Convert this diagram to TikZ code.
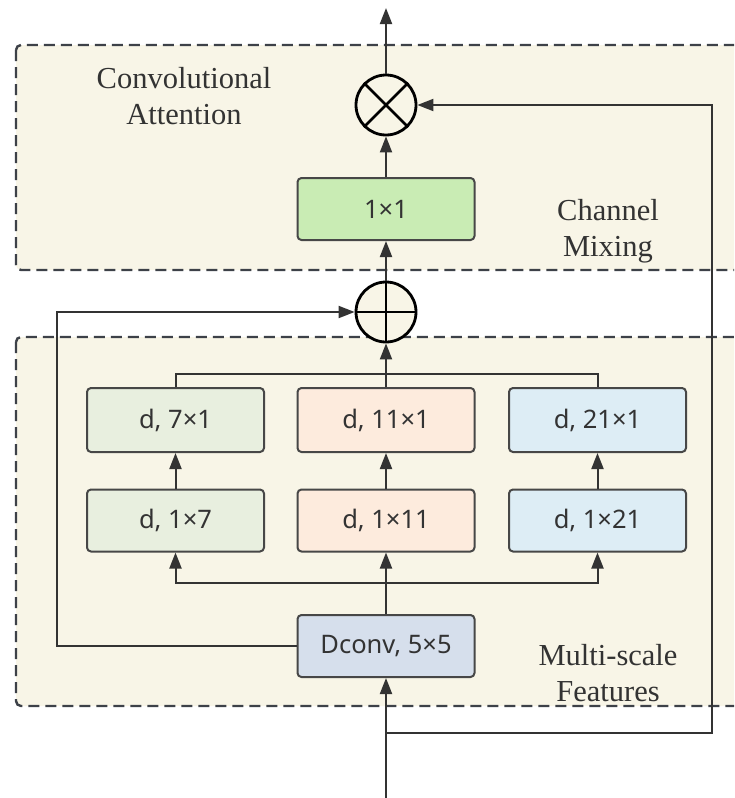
\documentclass[tikz,border=0pt]{standalone}
\usepackage{fontspec}
\setmainfont{Liberation Serif}
\newfontfamily\boxfont{Noto Sans}
\usetikzlibrary{arrows.meta}
\definecolor{cream}{HTML}{F8F5E7}
\definecolor{dashc}{HTML}{3D4148}
\definecolor{linec}{HTML}{333333}
\definecolor{gA}{HTML}{C9ECB4}
\definecolor{gB}{HTML}{E8EFDF}
\definecolor{pB}{HTML}{FDEBDD}
\definecolor{bB}{HTML}{DDEDF5}
\definecolor{dB}{HTML}{D6DFEC}
\definecolor{textc}{HTML}{333333}
\tikzset{
  region/.style={draw=dashc, fill=cream, line width=2.4pt, dash pattern=on 11pt off 6pt, rounded corners=5pt},
  blk/.style={draw=linec!90, line width=2pt, rounded corners=4pt, minimum width=177pt, minimum height=62pt, inner sep=0pt, font=\boxfont\fontsize{25.5}{28}\selectfont, text=textc},
  opc/.style={circle, draw=black, fill=cream, line width=2.8pt, minimum size=60pt, inner sep=0pt},
  lbl/.style={align=center, font=\fontsize{30.5}{36}\selectfont, text=textc},
  conn/.style={draw=linec, line width=2pt},
  arr/.style={conn, -{Triangle[length=16pt,width=12pt]}}
}
\begin{document}
\begin{tikzpicture}[x=1pt,y=-1pt]
\useasboundingbox (0,0) rectangle (734,798);
\begin{scope}
\clip (0,0) rectangle (734,798);
\fill[white] (0,0) rectangle (734,798);
\draw[region] (16,45) rectangle (760,270);
\draw[region] (16,337) rectangle (760,706);

\node[lbl] (tca) at (184,96) {Convolutional\\Attention};
\node[lbl] (tcm) at (608,231) {Channel\\Mixing};
\node[lbl] (tms) at (608,673) {Multi-scale\\Features};

\node[opc] (mul) at (386,105) {};
\node[opc] (add) at (386,312) {};
\node[blk, fill=gA] (c11) at (386,209) {1×1};
\node[blk, fill=gB, minimum height=64pt] (b71) at (175.5,420) {d, 7×1};
\node[blk, fill=pB, minimum height=64pt] (b111) at (386,420) {d, 11×1};
\node[blk, fill=bB, minimum height=64pt] (b211) at (597.5,420) {d, 21×1};
\node[blk, fill=gB] (b17) at (175.5,520.5) {d, 1×7};
\node[blk, fill=pB] (b111b) at (386,520.5) {d, 1×11};
\node[blk, fill=bB] (b121) at (597.5,520.5) {d, 1×21};
\node[blk, fill=dB] (dconv) at (386,646) {Dconv, 5×5};

\draw[line width=2.8pt] (mul.45) -- (mul.225) (mul.135) -- (mul.-45);
\draw[line width=2.8pt] (add.north) -- (add.south) (add.west) -- (add.east);

\coordinate (out) at (386,8);
\coordinate (in) at (386,798);
\coordinate (br) at (386,733);
\coordinate (rc) at (712,733);
\coordinate (lc) at (57,646);
\coordinate (sp) at (386,583);
\coordinate (mg) at (386,374);

\draw[arr] (mul) -- (out);
\draw[arr] (c11) -- (mul);
\draw[arr] (add) -- (c11);
\draw[arr] (b111) -- (add);
\draw[conn] (b71.north) |- (mg) -| (b211.north);
\draw[arr] (b17) -- (b71);
\draw[arr] (b111b) -- (b111);
\draw[arr] (b121) -- (b211);
\draw[arr] (dconv) -- (b111b);
\draw[arr] (sp) -| (b17.south);
\draw[arr] (sp) -| (b121.south);
\draw[arr] (in) -- (dconv);
\draw[arr] (br) -- (rc) |- (mul.east);
\draw[arr] (dconv.west) -- (lc) |- (add.west);
\end{scope}
\end{tikzpicture}
\end{document}
